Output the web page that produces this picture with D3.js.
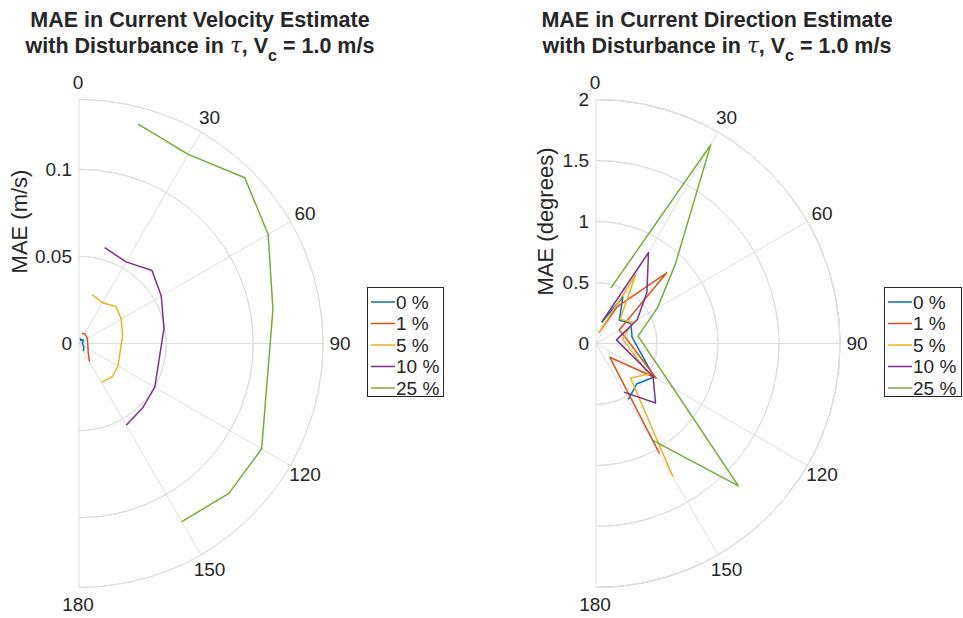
<!DOCTYPE html>
<html>
<head>
<meta charset="utf-8">
<script src="https://cdn.jsdelivr.net/npm/d3@7"></script>
<style>
  body { margin: 0; background: #fff; }
  text { font-family: "Liberation Sans", Arial, sans-serif; fill: #262626; }
</style>
</head>
<body>
<div id="chart"></div>
<script>
// angles (deg) at which the MAE was evaluated
const thetaDeg = [15, 30, 45, 60, 80, 120, 135, 150];
const seriesNames = ["0 %", "1 %", "5 %", "10 %", "25 %"];
const colors = ["#0072BD", "#D95319", "#EDB120", "#7E2F8E", "#77AC30"];

// MAE velocity (m/s)
const velo0 = [0.003, 0.002, 0.003, 0.003, 0.002, 0.003, 0.004, 0.005];
const velo1 = [0.006, 0.0065, 0.006, 0.0055, 0.005, 0.006, 0.0075, 0.012];
const velo5 = [0.029, 0.027, 0.030, 0.028, 0.0254, 0.0258, 0.027, 0.0258];
const velo10 = [0.0569, 0.0541, 0.0592, 0.0545, 0.0495, 0.0502, 0.0519, 0.0542];
const velo25 = [0.1305, 0.1253, 0.1345, 0.1253, 0.113, 0.121, 0.1216, 0.118];

// MAE direction (degrees)
const dir0 = [0.18, 0.44, 0.27, 0.33, 0.30, 0.55, 0.47, 0.53];
const dir1 = [0.09, 0.35, 0.82, 0.22, 0.25, 0.57, 0.16, 1.04];
const dir5 = [0.09, 0.65, 0.28, 0.35, 0.22, 0.50, 0.40, 1.26];
const dir10 = [0.18, 0.86, 0.59, 0.39, 0.17, 0.54, 0.69, 0.46];
const dir25 = [0.47, 1.88, 0.92, 0.58, 0.35, 0.73, 1.65, 0.91];

const rTicksVelo = [0, 0.05, 0.1];
const rTicksDir = [0, 0.5, 1, 1.5, 2];
const thetaTicks = [0, 30, 60, 90, 120, 150, 180];

const W = 963, H = 618;
const svg = d3.select("#chart").append("svg").attr("width", W).attr("height", H);

function polarPanel(opt) {
  const g = svg.append("g").attr("transform", `translate(${opt.cx},${opt.cy})`);
  const R = 244;
  const r = d3.scaleLinear().domain([0, opt.rMax]).range([0, R]);
  const th = d3.scaleLinear().domain([0, 180]).range([0, Math.PI]);
  const grid = "#dcdcdc";

  // circles
  const arc = d3.arc().startAngle(0).endAngle(Math.PI);
  opt.rTicks.filter(t => t > 0).concat([opt.rMax]).forEach(t => {
    g.append("path")
      .attr("d", arc.innerRadius(r(t)).outerRadius(r(t))())
      .attr("fill", "none").attr("stroke", grid).attr("stroke-width", 1);
  });
  // spokes
  thetaTicks.forEach(t => {
    const a = th(t);
    g.append("line")
      .attr("x1", 0).attr("y1", 0)
      .attr("x2", R * Math.sin(a)).attr("y2", -R * Math.cos(a))
      .attr("stroke", grid).attr("stroke-width", 1);
  });
  // theta labels
  thetaTicks.forEach(t => {
    const a = th(t), rl = R + 17;
    g.append("text")
      .attr("x", rl * Math.sin(a) + (t === 0 || t === 180 ? -1 : 0))
      .attr("y", -rl * Math.cos(a))
      .attr("text-anchor", "middle").attr("dominant-baseline", "central")
      .attr("font-size", 19).text(t);
  });
  // r labels
  opt.rTicks.forEach(t => {
    g.append("text")
      .attr("x", -7).attr("y", -r(t))
      .attr("text-anchor", "end").attr("dominant-baseline", "central")
      .attr("font-size", 19).text(t);
  });
  // r axis label
  g.append("text")
    .attr("transform", `translate(${opt.labelX},${-r(opt.rMax / 2)}) rotate(-90)`)
    .attr("text-anchor", "middle").attr("dominant-baseline", "central")
    .attr("font-size", 22).text(opt.rLabel);

  // data
  const line = d3.lineRadial()
    .angle((d, i) => th(thetaDeg[i]))
    .radius(d => r(d));
  opt.series.forEach((s, k) => {
    g.append("path")
      .attr("d", line(s))
      .attr("fill", "none").attr("stroke", colors[k]).attr("stroke-width", 1.5)
      .attr("stroke-linejoin", "round");
  });

  // title
  const tt = svg.append("text")
    .attr("x", opt.titleX).attr("text-anchor", "middle")
    .attr("font-size", 21.5).attr("font-weight", "bold");
  tt.append("tspan").attr("x", opt.titleX).attr("y", 27).text(opt.title);
  const l2 = tt.append("tspan").attr("x", opt.titleX).attr("y", 53);
  l2.append("tspan").text("with Disturbance in ");
  l2.append("tspan").attr("font-family", "'DejaVu Serif', 'Liberation Serif', serif")
    .attr("font-style", "italic").attr("font-weight", "normal").text("τ");
  l2.append("tspan").text(", V");
  l2.append("tspan").attr("dy", 8).attr("font-size", 16).text("c");
  l2.append("tspan").attr("dy", -8).text(" = 1.0 m/s");

  // legend
  const lg = svg.append("g").attr("transform", `translate(${opt.legX},${opt.legY})`);
  lg.append("rect").attr("x", 0.5).attr("y", 0.5).attr("width", opt.legW).attr("height", 109)
    .attr("fill", "#fff").attr("stroke", "#262626").attr("stroke-width", 1);
  seriesNames.forEach((n, k) => {
    const y = 15 + k * 21.5;
    lg.append("line").attr("x1", 4).attr("x2", 28).attr("y1", y).attr("y2", y)
      .attr("stroke", colors[k]).attr("stroke-width", 1.5);
    lg.append("text").attr("x", 29).attr("y", y).attr("dominant-baseline", "central")
      .attr("font-size", 19).text(n);
  });
}

polarPanel({
  cx: 79, cy: 343.5, rMax: 0.14, rTicks: rTicksVelo, rLabel: "MAE (m/s)", labelX: -60,
  series: [velo0, velo1, velo5, velo10, velo25],
  title: "MAE in Current Velocity Estimate", titleX: 200,
  legX: 367, legY: 287, legW: 76
});
polarPanel({
  cx: 596, cy: 343.5, rMax: 2, rTicks: rTicksDir, rLabel: "MAE (degrees)", labelX: -51,
  series: [dir0, dir1, dir5, dir10, dir25],
  title: "MAE in Current Direction Estimate", titleX: 717,
  legX: 884, legY: 287, legW: 77
});
</script>
</body>
</html>
